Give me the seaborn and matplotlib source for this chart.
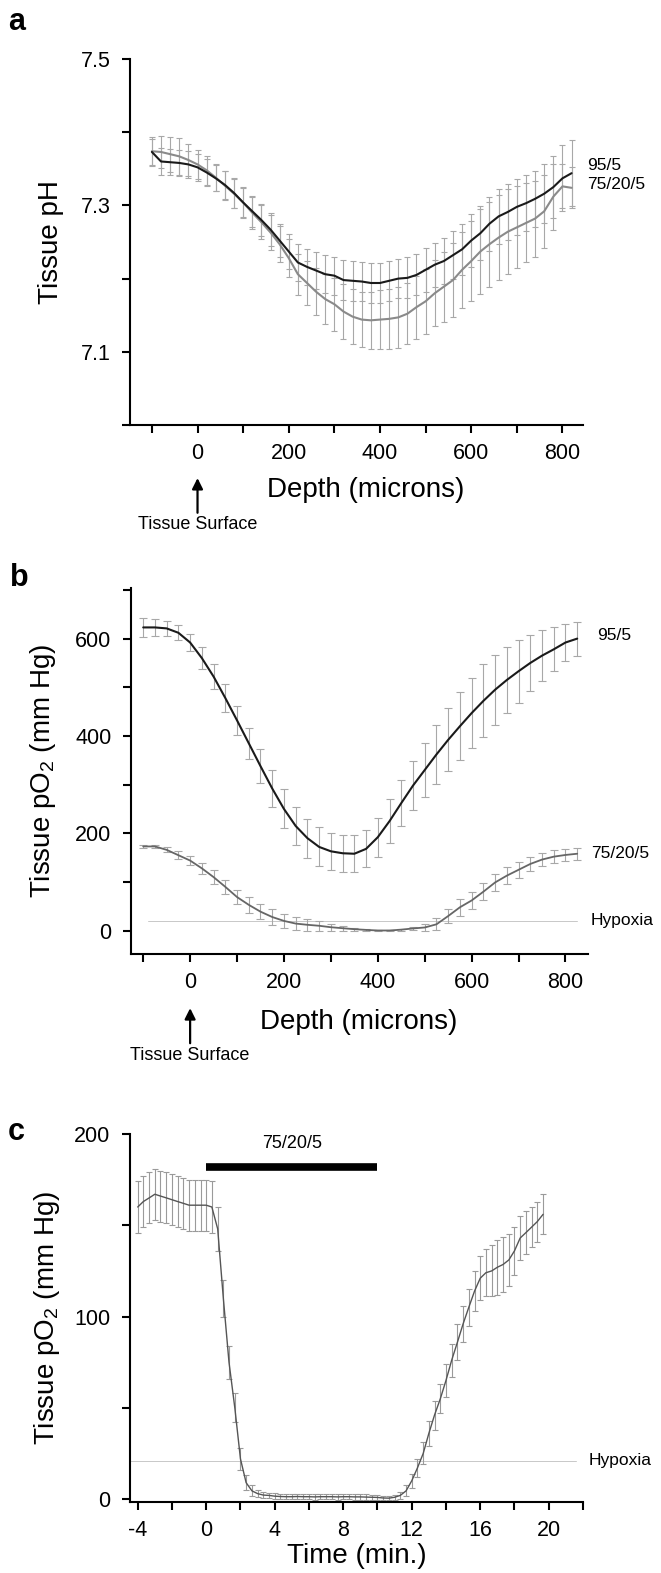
import matplotlib
matplotlib.use("Agg")
from matplotlib import pyplot as plt
from matplotlib.ticker import MultipleLocator
import numpy as np
import pandas as pd
import seaborn as sns

# ---- panel a : tissue pH vs depth ----
depth_a = [-100, -80, -60, -40, -20, 0, 20, 40, 60, 80, 100, 120, 140, 160, 180, 200,
           220, 240, 260, 280, 300, 320, 340, 360, 380, 400, 420, 440, 460, 480, 500,
           520, 540, 560, 580, 600, 620, 640, 660, 680, 700, 720, 740, 760, 780, 800, 820]
ph_955 = [7.373, 7.360, 7.359, 7.358, 7.356, 7.352, 7.345, 7.337, 7.328, 7.317, 7.304,
          7.292, 7.280, 7.267, 7.252, 7.237, 7.222, 7.216, 7.211, 7.206, 7.204, 7.198,
          7.197, 7.196, 7.194, 7.194, 7.197, 7.200, 7.201, 7.205, 7.212, 7.219, 7.224,
          7.232, 7.240, 7.252, 7.262, 7.275, 7.285, 7.291, 7.298, 7.303, 7.309, 7.316,
          7.325, 7.337, 7.344]
ph_955_se = [0.018, 0.018, 0.018, 0.018, 0.018, 0.018, 0.018, 0.018, 0.019, 0.020, 0.020,
             0.021, 0.022, 0.022, 0.023, 0.024, 0.025, 0.025, 0.025, 0.026, 0.026, 0.027,
             0.027, 0.027, 0.027, 0.027, 0.027, 0.027, 0.028, 0.028, 0.030, 0.030, 0.032,
             0.033, 0.035, 0.036, 0.037, 0.037, 0.038, 0.038, 0.038, 0.038, 0.038, 0.040,
             0.042, 0.045, 0.045]
ph_75205 = [7.374, 7.373, 7.370, 7.367, 7.362, 7.356, 7.348, 7.338, 7.327, 7.316, 7.304,
            7.290, 7.277, 7.263, 7.247, 7.228, 7.206, 7.194, 7.182, 7.172, 7.165, 7.155,
            7.148, 7.144, 7.143, 7.144, 7.145, 7.147, 7.152, 7.161, 7.169, 7.180, 7.189,
            7.198, 7.212, 7.224, 7.237, 7.247, 7.256, 7.264, 7.270, 7.276, 7.282, 7.292,
            7.312, 7.326, 7.324]
ph_75205_se = [0.020, 0.022, 0.024, 0.025, 0.022, 0.020, 0.020, 0.019, 0.020, 0.020, 0.021,
               0.022, 0.023, 0.024, 0.025, 0.026, 0.028, 0.030, 0.032, 0.034, 0.036, 0.037,
               0.038, 0.038, 0.039, 0.040, 0.041, 0.042, 0.042, 0.043, 0.044, 0.045, 0.048,
               0.050, 0.052, 0.055, 0.058, 0.058, 0.058, 0.058, 0.056, 0.054, 0.052, 0.050,
               0.045, 0.030, 0.028]

# ---- panel b : tissue pO2 vs depth ----
depth_b = [-100, -75, -50, -25, 0, 25, 50, 75, 100, 125, 150, 175, 200, 225, 250, 275, 300,
           325, 350, 375, 400, 425, 450, 475, 500, 525, 550, 575, 600, 625, 650, 675, 700,
           725, 750, 775, 800, 825]
po2_955 = [623, 623, 621, 612, 592, 560, 522, 478, 432, 385, 338, 292, 250, 215, 190, 172,
           163, 159, 158, 168, 192, 225, 262, 298, 330, 362, 392, 420, 447, 472, 495, 515,
           533, 550, 565, 578, 592, 600]
po2_955_se = [20, 18, 15, 15, 18, 22, 25, 28, 30, 32, 35, 38, 40, 40, 40, 40, 38, 38, 38, 38,
              40, 45, 48, 50, 55, 60, 65, 70, 72, 75, 72, 68, 65, 58, 52, 45, 38, 35]
po2_75205 = [173, 173, 166, 155, 144, 128, 110, 90, 69, 53, 39, 28, 20, 14.5, 12, 10, 7, 5,
             3, 1.5, 0.3, 0.3, 2, 4.5, 6.5, 13, 30, 48, 62, 80, 99, 113, 125, 137, 146, 152,
             155.5, 158]
po2_75205_se = [3, 3, 5, 8, 10, 12, 14, 15, 15, 16, 16, 16, 15, 14, 12, 10, 7, 5, 3, 2, 1, 1,
                2, 4, 8, 12, 15, 17, 18, 18, 18, 17, 16, 15, 14, 13, 12, 12]

# ---- panel c : tissue pO2 vs time ----
time_c = [-4.0, -3.67, -3.33, -3.0, -2.67, -2.33, -2.0, -1.67, -1.33, -1.0, -0.67, -0.33,
          0.0, 0.33, 0.67, 1.0, 1.33, 1.67, 2.0, 2.33, 2.67, 3.0, 3.33, 3.67, 4.0, 4.33,
          4.67, 5.0, 5.33, 5.67, 6.0, 6.33, 6.67, 7.0, 7.33, 7.67, 8.0, 8.33, 8.67, 9.0,
          9.33, 9.67, 10.0, 10.33, 10.67, 11.0, 11.33, 11.67, 12.0, 12.33, 12.67, 13.0,
          13.33, 13.67, 14.0, 14.33, 14.67, 15.0, 15.33, 15.67, 16.0, 16.33, 16.67, 17.0,
          17.33, 17.67, 18.0, 18.33, 18.67, 19.0, 19.33, 19.67]
po2_time = [160, 163, 165, 167, 166, 165, 164, 163, 162, 161, 161, 161, 161, 160, 148, 110,
            75, 50, 22, 9, 4.5, 3, 2.2, 2, 1.6, 1.4, 1.3, 1.3, 1.4, 1.3, 1.3, 1.2, 1.3, 1.3,
            1.3, 1.2, 1.3, 1.3, 1.2, 1.2, 1.1, 1.0, 0.9, 0.6, 0.5, 1.0, 2.0, 4.5, 10, 17, 25,
            36, 46, 55, 65, 76, 86, 96, 105, 114, 121, 124, 125, 127, 128.5, 131, 136, 143,
            146, 149, 152, 156]
po2_time_se = [14, 14, 14, 14, 14, 14, 14, 14, 14, 14, 14, 14, 14, 14, 12, 10, 9, 8, 6, 4, 3,
               2, 1.5, 1.5, 1.5, 1.5, 1.5, 1.5, 1.5, 1.5, 1.5, 1.5, 1.5, 1.5, 1.5, 1.5, 1.5,
               1.5, 1.5, 1.5, 1.5, 1.5, 1.5, 1, 1, 1.5, 2, 3, 4, 5, 6, 7, 8, 8, 9, 9, 10, 10,
               10, 11, 12, 13, 14, 15, 15, 14, 13, 12, 12, 11, 11, 11]

hypoxia = 20
gas_on, gas_off = 0, 10

sns.set_style("ticks")
plt.rcParams['font.family'] = ['Liberation Sans', 'DejaVu Sans']
plt.rcParams['mathtext.fontset'] = 'custom'
plt.rcParams['mathtext.rm'] = 'Liberation Sans'
plt.rcParams['mathtext.default'] = 'regular'
plt.rcParams['axes.unicode_minus'] = False
for k in ('text.color', 'axes.labelcolor', 'xtick.color', 'ytick.color'):
    plt.rcParams[k] = 'black'

fig = plt.figure(figsize=(6.61, 15.73), dpi=100)
W, H = 661.0, 1573.0


def make_ax(left, right, top, bottom):
    return fig.add_axes([left / W, 1 - bottom / H, (right - left) / W, (bottom - top) / H])


def style_ax(ax):
    sns.despine(ax=ax)
    for s in ('left', 'bottom'):
        ax.spines[s].set_linewidth(1.5)
        ax.spines[s].set_color('black')
    ax.tick_params(which='both', direction='out', length=6, width=1.5, colors='black',
                   labelsize=15.5)
    ax.tick_params(axis='y', pad=8)
    ax.tick_params(axis='x', pad=7)


def draw_series(ax, x, y, se, color, lw, capsize, ecolor='#a8a8a8'):
    df = pd.DataFrame({'x': x, 'y': y})
    ax.errorbar(x, y, yerr=se, fmt='none', ecolor=ecolor, elinewidth=0.8,
                capsize=capsize, capthick=0.8, zorder=2)
    sns.lineplot(data=df, x='x', y='y', ax=ax, color=color, lw=lw, errorbar=None,
                 zorder=3)


def surface_arrow(ax, tip, txt):
    ax.annotate('Tissue Surface', xy=(0, tip), xycoords=('data', 'axes fraction'),
                xytext=(0, txt), textcoords=('data', 'axes fraction'),
                ha='center', va='center', fontsize=13,
                arrowprops=dict(arrowstyle='-|>', color='black', lw=1.6,
                                mutation_scale=16, shrinkA=0, shrinkB=0),
                annotation_clip=False)


# ---- a ----
ax = make_ax(130, 583, 59, 425)
draw_series(ax, depth_a, ph_75205, ph_75205_se, '#8a8a8a', 1.5, 2.2)
draw_series(ax, depth_a, ph_955, ph_955_se, '#1a1a1a', 1.5, 2.2)
ax.set_xlim(-148, 845)
ax.set_ylim(7.0, 7.5)
ax.set_yticks([7.1, 7.3, 7.5])
ax.yaxis.set_minor_locator(MultipleLocator(0.1))
ax.set_xticks([0, 200, 400, 600, 800])
ax.xaxis.set_minor_locator(MultipleLocator(100))
style_ax(ax)
ax.set_xlabel('Depth (microns)', fontsize=20)
ax.set_ylabel('Tissue pH', fontsize=20)
ax.xaxis.set_label_coords(0.52, -0.142)
ax.yaxis.set_label_coords(-0.145, 0.5)
ax.text(853, 7.354, '95/5', fontsize=12.5, va='center', ha='left', clip_on=False)
ax.text(853, 7.329, '75/20/5', fontsize=12.5, va='center', ha='left', clip_on=False)
surface_arrow(ax, -0.145, -0.272)

# ---- b ----
ax = make_ax(131, 588, 588, 954)
ax.plot([-90, 825], [hypoxia, hypoxia], color='#c8c8c8', lw=0.7, zorder=1)
draw_series(ax, depth_b, po2_75205, po2_75205_se, '#666666', 1.3, 3)
draw_series(ax, depth_b, po2_955, po2_955_se, '#1a1a1a', 1.5, 3)
ax.set_xlim(-126, 848)
ax.set_ylim(-48, 704)
ax.set_yticks([0, 200, 400, 600])
ax.yaxis.set_minor_locator(MultipleLocator(100))
ax.set_xticks([0, 200, 400, 600, 800])
ax.xaxis.set_minor_locator(MultipleLocator(100))
style_ax(ax)
ax.set_xlabel('Depth (microns)', fontsize=20)
ax.set_ylabel('Tissue pO$_2$ (mm Hg)', fontsize=20)
ax.xaxis.set_label_coords(0.498, -0.150)
ax.yaxis.set_label_coords(-0.16, 0.5)
ax.text(868, 607, '95/5', fontsize=12.5, va='center', ha='left', clip_on=False)
ax.text(855, 158, '75/20/5', fontsize=12.5, va='center', ha='left', clip_on=False)
ax.text(853, hypoxia, 'Hypoxia', fontsize=12.5, va='center', ha='left', clip_on=False)
surface_arrow(ax, -0.148, -0.276)

# ---- c ----
ax = make_ax(130, 583, 1134, 1502)
ax.plot([-4.45, 21.6], [21, 21], color='#c8c8c8', lw=0.7, zorder=1)
draw_series(ax, time_c, po2_time, po2_time_se, '#555555', 1.0, 2.5, ecolor='#9a9a9a')
ax.plot([gas_on, gas_off], [182, 182], color='black', lw=5.5, solid_capstyle='butt')
ax.text((gas_on + gas_off) / 2, 195, '75/20/5', fontsize=13, ha='center', va='center')
ax.set_xlim(-4.45, 22)
ax.set_ylim(-1.6, 200)
ax.set_yticks([0, 100, 200])
ax.yaxis.set_minor_locator(MultipleLocator(50))
ax.set_xticks([-4, 0, 4, 8, 12, 16, 20])
ax.xaxis.set_minor_locator(MultipleLocator(2))
style_ax(ax)
ax.set_xlabel('Time (min.)', fontsize=20)
ax.set_ylabel('Tissue pO$_2$ (mm Hg)', fontsize=20)
ax.xaxis.set_label_coords(0.5, -0.112)
ax.yaxis.set_label_coords(-0.15, 0.5)
ax.text(22.3, 21, 'Hypoxia', fontsize=12.5, va='center', ha='left', clip_on=False)

# panel letters
fig.text(8 / W, 1 - 22 / H, 'a', fontsize=22, fontweight='bold', va='center')
fig.text(10 / W, 1 - 578 / H, 'b', fontsize=22, fontweight='bold', va='center')
fig.text(8 / W, 1 - 1132 / H, 'c', fontsize=22, fontweight='bold', va='center')

fig.savefig('out.png', dpi=100)
